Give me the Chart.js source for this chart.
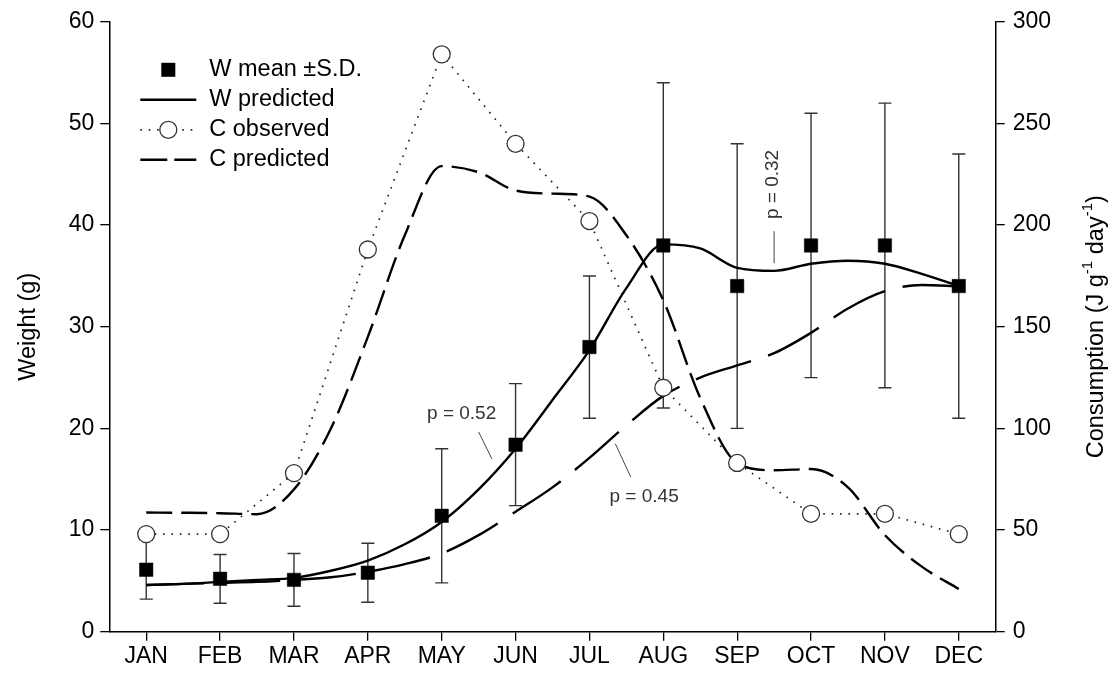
<!DOCTYPE html>
<html>
<head>
<meta charset="utf-8">
<title>Weight and consumption</title>
<script src="https://cdn.jsdelivr.net/npm/chart.js@4.4.1/dist/chart.umd.min.js"></script>
<style>
  html, body { margin: 0; padding: 0; background: #fff; }
  canvas { display: block; }
</style>
</head>
<body>
<canvas id="chart" width="1120" height="679"></canvas>
<script>
const months = ['JAN', 'FEB', 'MAR', 'APR', 'MAY', 'JUN', 'JUL', 'AUG', 'SEP', 'OCT', 'NOV', 'DEC'];

// observed weight (g), monthly mean and standard deviation
const wMean = [6.1, 5.2, 5.1, 5.8, 11.4, 18.4, 28, 38, 34, 38, 38, 34];
const wSD = [2.9, 2.4, 2.6, 2.9, 6.6, 6.0, 7.0, 16, 14, 13, 14, 13];

// observed consumption (J g-1 day-1)
const cObserved = [48, 48, 78, 188, 284, 240, 202, 120, 83, 58, 58, 48];

// model curves, sampled every half month
const curveX = [0, 0.5, 1, 1.5, 2, 2.5, 3, 3.5, 4, 4.5, 5, 5.5, 6, 6.5, 7, 7.5, 8, 8.5, 9, 9.5, 10, 10.5, 11];
const wPredicted = [4.6, 4.7, 4.9, 5.1, 5.3, 6.0, 7.0, 8.6, 10.8, 14.0, 18.0, 22.8, 27.7, 33.8, 38.1, 37.7, 35.8, 35.5, 36.2, 36.5, 36.2, 35.2, 34.0];
const wPredictedLow = [4.6, 4.7, 4.8, 4.9, 5.1, 5.35, 5.9, 6.65, 7.7, 9.5, 11.8, 14.2, 17.1, 20.3, 23.2, 25.0, 26.2, 27.4, 29.4, 31.8, 33.5, 34.1, 34.0];
const cPredicted = [58.6, 58.5, 58.3, 57.8, 70, 100, 145, 195, 229, 226, 217, 215.5, 214, 195, 163, 115, 83, 79.4, 80, 71, 47.5, 32, 21];

const FONT = 'Liberation Sans, Arial, sans-serif';

const toPoints = (xs, ys) => xs.map((x, i) => ({ x: x, y: ys[i] }));

// vertical error bars for the monthly means
const errorBars = {
  id: 'errorBars',
  beforeDatasetsDraw(chart) {
    const { ctx } = chart;
    const xs = chart.scales.x, ys = chart.scales.y;
    ctx.save();
    ctx.strokeStyle = '#333';
    ctx.lineWidth = 1.4;
    wMean.forEach((m, i) => {
      const px = xs.getPixelForValue(i);
      const top = ys.getPixelForValue(m + wSD[i]);
      const bot = ys.getPixelForValue(m - wSD[i]);
      ctx.beginPath();
      ctx.moveTo(px, top); ctx.lineTo(px, bot);
      ctx.moveTo(px - 6.5, top); ctx.lineTo(px + 6.5, top);
      ctx.moveTo(px - 6.5, bot); ctx.lineTo(px + 6.5, bot);
      ctx.stroke();
    });
    ctx.restore();
  }
};

// p labels with short leader lines
const notes = [
  { text: 'p = 0.52', x: 4.27, y: 21.4, line: [4.5, 19.65, 4.68, 17.0] },
  { text: 'p = 0.45', x: 6.74, y: 13.3, line: [6.35, 18.5, 6.56, 15.2] },
  { text: 'p = 0.32', x: 8.48, y: 44.0, rotate: true, line: [8.5, 39.4, 8.5, 36.25] }
];

const pLabels = {
  id: 'pLabels',
  afterDatasetsDraw(chart) {
    const { ctx } = chart;
    const xs = chart.scales.x, ys = chart.scales.y;
    ctx.save();
    ctx.fillStyle = '#333';
    ctx.strokeStyle = '#444';
    ctx.lineWidth = 1;
    ctx.font = '19px ' + FONT;
    ctx.textAlign = 'center';
    ctx.textBaseline = 'middle';
    notes.forEach(n => {
      const [x1, y1, x2, y2] = n.line;
      ctx.beginPath();
      ctx.moveTo(xs.getPixelForValue(x1), ys.getPixelForValue(y1));
      ctx.lineTo(xs.getPixelForValue(x2), ys.getPixelForValue(y2));
      ctx.stroke();
      ctx.save();
      ctx.translate(xs.getPixelForValue(n.x), ys.getPixelForValue(n.y));
      if (n.rotate) ctx.rotate(-Math.PI / 2);
      ctx.fillText(n.text, 0, 0);
      ctx.restore();
    });
    ctx.restore();
  }
};

// legend in the upper left of the plot
const plotLegend = {
  id: 'plotLegend',
  afterDatasetsDraw(chart) {
    const { ctx, chartArea } = chart;
    const x0 = chartArea.left + 31, x1 = chartArea.left + 87, xm = (x0 + x1) / 2;
    const tx = chartArea.left + 100;
    ctx.save();
    ctx.font = '23.5px ' + FONT;
    ctx.textBaseline = 'middle';
    ctx.fillStyle = '#000';
    chart.data.datasets.slice(0, 4).forEach((ds, i) => {
      const y = chartArea.top + 48 + i * 30;
      ctx.save();
      if (ds.showLine !== false) {
        ctx.strokeStyle = ds.borderColor;
        ctx.lineWidth = ds.borderWidth;
        ctx.setLineDash(i === 3 ? [27, 7] : (ds.borderDash || []));
        ctx.beginPath();
        ctx.moveTo(x0, y); ctx.lineTo(x1, y);
        ctx.stroke();
      }
      ctx.setLineDash([]);
      if (ds.pointStyle === 'rect') {
        ctx.fillStyle = '#000';
        ctx.fillRect(xm - 7, y - 7, 14, 14);
      } else if (ds.pointRadius > 0) {
        ctx.beginPath();
        ctx.arc(xm, y, ds.pointRadius, 0, Math.PI * 2);
        ctx.fillStyle = ds.pointBackgroundColor;
        ctx.fill();
        ctx.strokeStyle = ds.pointBorderColor;
        ctx.lineWidth = ds.pointBorderWidth;
        ctx.stroke();
      }
      ctx.restore();
      ctx.fillText(ds.label, tx, y);
    });
    ctx.restore();
  }
};

// right axis title, read bottom to top, with superscripts
const rightTitle = {
  id: 'rightTitle',
  afterDraw(chart) {
    const { ctx, chartArea } = chart;
    const parts = [['Consumption (J g', false], ['-1', true], [' day', false], ['-1', true], [')', false]];
    const big = '23.5px ' + FONT, small = '15px ' + FONT;
    ctx.save();
    let total = 0;
    parts.forEach(([t, sup]) => { ctx.font = sup ? small : big; total += ctx.measureText(t).width; });
    ctx.translate(1097, (chartArea.top + chartArea.bottom) / 2);
    ctx.rotate(-Math.PI / 2);
    ctx.fillStyle = '#000';
    ctx.textBaseline = 'middle';
    let x = -total / 2;
    parts.forEach(([t, sup]) => {
      ctx.font = sup ? small : big;
      ctx.fillText(t, x, sup ? -9 : 0);
      x += ctx.measureText(t).width;
    });
    ctx.restore();
  }
};

const tickFont = { family: FONT, size: 23 };
const axisGrid = { display: true, drawOnChartArea: false, drawTicks: true, tickLength: 9, color: '#000', lineWidth: 1.3 };
const axisBorder = { display: true, color: '#000', width: 1.5 };

new Chart(document.getElementById('chart'), {
  type: 'line',
  data: {
    datasets: [
      {
        label: 'W mean \u00b1S.D.',
        data: toPoints(months.map((m, i) => i), wMean),
        yAxisID: 'y',
        showLine: false,
        pointStyle: 'rect',
        pointRadius: 9.5,
        pointBackgroundColor: '#000',
        pointBorderColor: '#000',
        pointBorderWidth: 0.5,
        borderColor: '#000',
        order: 1
      },
      {
        label: 'W predicted',
        data: toPoints(curveX, wPredicted),
        yAxisID: 'y',
        borderColor: '#000',
        borderWidth: 2.4,
        pointRadius: 0,
        cubicInterpolationMode: 'monotone',
        order: 3
      },
      {
        label: 'C observed',
        data: toPoints(months.map((m, i) => i), cObserved),
        yAxisID: 'y2',
        borderColor: '#222',
        borderWidth: 1.7,
        borderDash: [1.6, 6.8],
        pointRadius: 8.5,
        pointBackgroundColor: '#fff',
        pointBorderColor: '#333',
        pointBorderWidth: 1.3,
        tension: 0,
        order: 0
      },
      {
        label: 'C predicted',
        data: toPoints(curveX, cPredicted),
        yAxisID: 'y2',
        borderColor: '#000',
        borderWidth: 2.4,
        borderDash: [26, 9],
        pointRadius: 0,
        cubicInterpolationMode: 'monotone',
        order: 2
      },
      {
        label: 'W predicted p = 0.45',
        data: toPoints(curveX, wPredictedLow),
        yAxisID: 'y',
        borderColor: '#000',
        borderWidth: 2.4,
        borderDash: [58, 18],
        pointRadius: 0,
        cubicInterpolationMode: 'monotone',
        order: 4
      }
    ]
  },
  options: {
    responsive: false,
    animation: false,
    devicePixelRatio: 1,
    layout: { padding: { top: 21, left: 0, right: 0, bottom: 0 } },
    plugins: { legend: { display: false }, tooltip: { enabled: false } },
    scales: {
      x: {
        type: 'linear',
        min: -0.5,
        max: 11.5,
        afterBuildTicks: (axis) => { axis.ticks = months.map((m, i) => ({ value: i })); },
        afterFit: (axis) => { axis.height = 47.3; },
        ticks: { callback: (v) => months[v] || '', font: tickFont, color: '#000', padding: 2, autoSkip: false, maxRotation: 0 },
        grid: axisGrid,
        border: axisBorder
      },
      y: {
        position: 'left',
        min: 0,
        max: 60,
        afterFit: (axis) => { axis.width = 109.3; },
        ticks: { stepSize: 10, font: tickFont, color: '#000', padding: 6 },
        grid: axisGrid,
        border: axisBorder,
        title: { display: true, text: 'Weight (g)', font: { family: FONT, size: 23.5 }, color: '#000', padding: { top: 14 } }
      },
      y2: {
        position: 'right',
        min: 0,
        max: 300,
        afterFit: (axis) => { axis.width = 124.3; },
        ticks: { stepSize: 50, font: tickFont, color: '#000', padding: 8 },
        grid: axisGrid,
        border: axisBorder
      }
    }
  },
  plugins: [errorBars, pLabels, plotLegend, rightTitle]
});
</script>
</body>
</html>
